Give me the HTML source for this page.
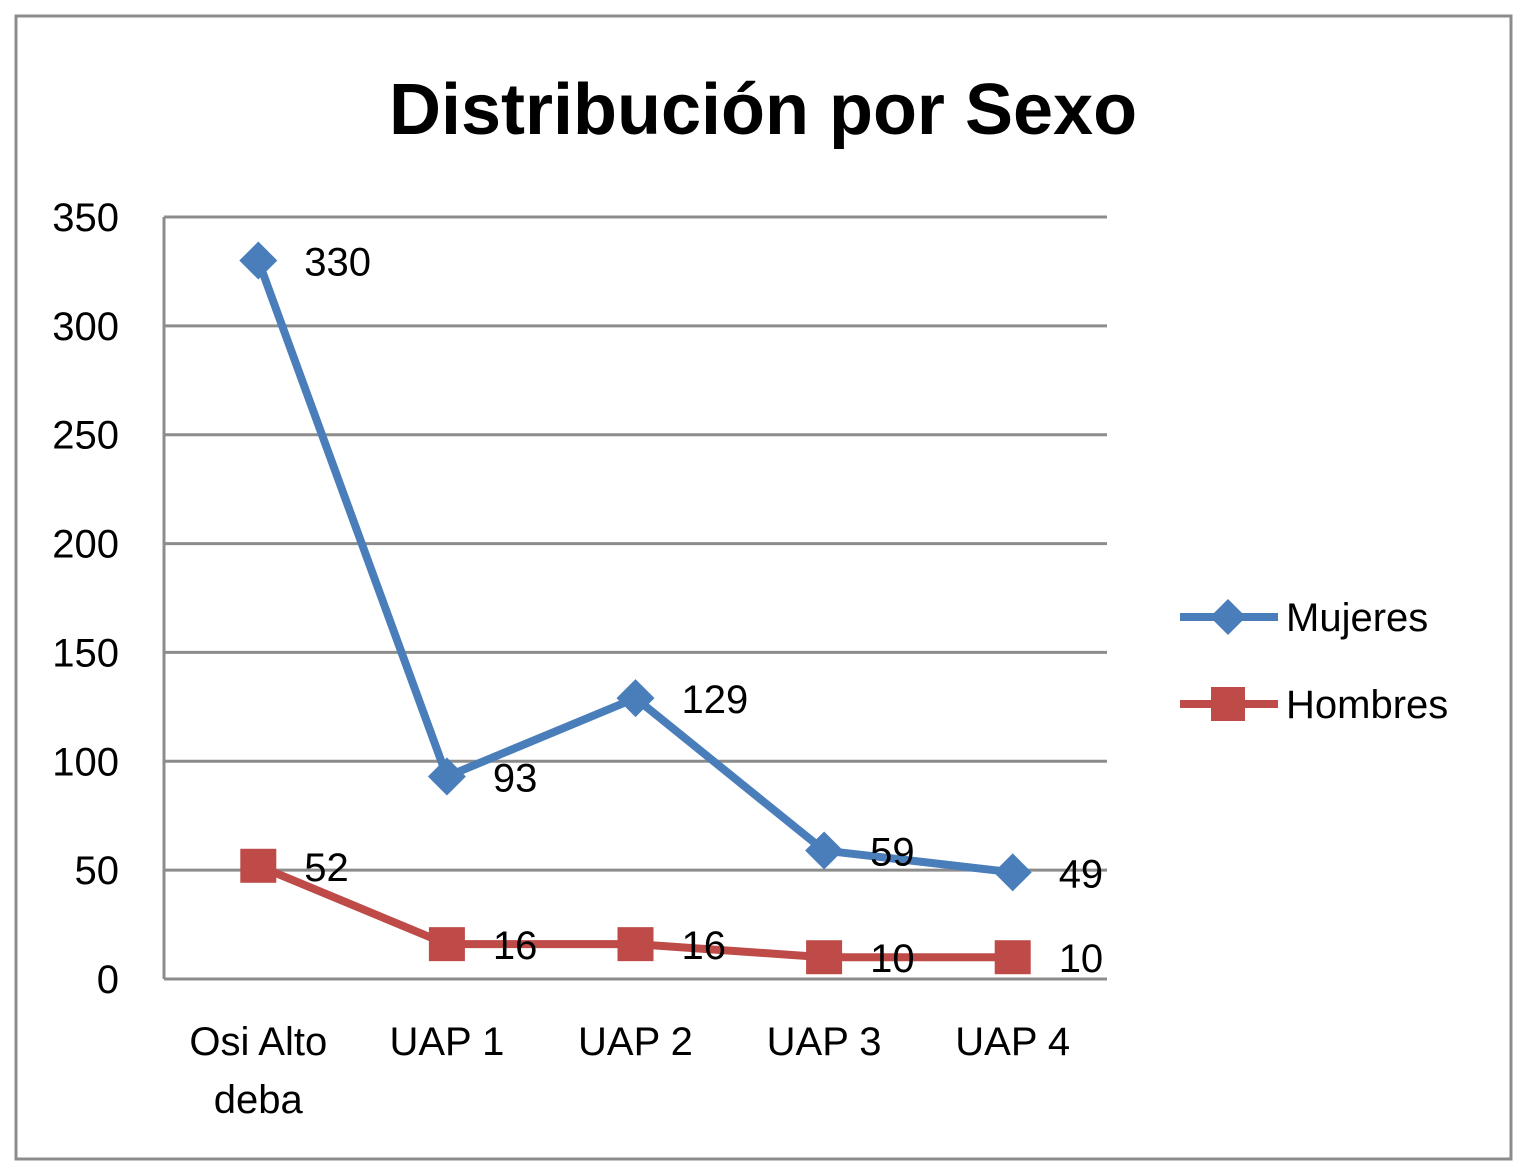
<!DOCTYPE html>
<html><head><meta charset="utf-8"><style>
body{margin:0;background:#fff}
svg text{font-family:"Liberation Sans",sans-serif;fill:#000}
</style></head><body>
<svg id="chart" width="1528" height="1167" xmlns="http://www.w3.org/2000/svg">
<rect x="16" y="16" width="1495" height="1143" fill="#fff" stroke="#8c8c8c" stroke-width="3"/>
<text x="763" y="134" text-anchor="middle" font-size="72" font-weight="bold">Distribución por Sexo</text>
<g id="grid"></g><g id="yticks"></g><g id="xticks"></g><g id="series"></g>
<g>
<line x1="1180" y1="617" x2="1278" y2="617" stroke="#4a7ebb" stroke-width="8"/>
<path d="M1228 599 L1246 617 L1228 635 L1210 617 Z" fill="#4a7ebb"/>
<text x="1286" y="631" font-size="40">Mujeres</text>
<line x1="1180" y1="704" x2="1278" y2="704" stroke="#be4b48" stroke-width="8"/>
<rect x="1211" y="687" width="34" height="34" fill="#be4b48"/>
<text x="1286" y="718" font-size="40">Hombres</text>
</g>
</svg>
<script>
const categories=[["Osi Alto","deba"],["UAP 1"],["UAP 2"],["UAP 3"],["UAP 4"]];
const mujeres=[330,93,129,59,49];
const hombres=[52,16,16,10,10];
const yTicks=[0,50,100,150,200,250,300,350];
const NS="http://www.w3.org/2000/svg";
const L=164,R=1107,T=217,B=979,ymax=350;
const x=i=>L+(R-L)/categories.length*(i+0.5);
const y=v=>B-(B-T)*v/ymax;
function mk(tag,attrs,parent,txt){const e=document.createElementNS(NS,tag);for(const k in attrs)e.setAttribute(k,attrs[k]);if(txt!==undefined)e.textContent=txt;document.getElementById(parent).appendChild(e);return e;}
yTicks.forEach(t=>{
 const g=mk("line",{x1:L,x2:R,y1:y(t),y2:y(t),stroke:"#8c8c8c","stroke-width":3},"grid");
 
 
 const tx=mk("text",{x:119,y:y(t)+14,"text-anchor":"end","font-size":40},"yticks",t);
 
 
});
mk("line",{x1:L,x2:L,y1:T,y2:B,stroke:"#8c8c8c","stroke-width":3},"grid");
categories.forEach((c,i)=>{
 c.forEach((s,j)=>{
  const tx=mk("text",{x:x(i),y:1055+j*58,"text-anchor":"middle","font-size":40},"xticks",s);
  
  
 });
});
function series(vals,color,kind){
 const p=mk("polyline",{points:vals.map((v,i)=>x(i)+","+y(v)).join(" "),fill:"none",stroke:color,"stroke-width":8,"stroke-linejoin":"round"},"series");
 
 
 vals.forEach((v,i)=>{
  const cx=x(i),cy=y(v);let m;
  if(kind==="d") m=mk("path",{d:`M${cx} ${cy-19} L${cx+19} ${cy} L${cx} ${cy+19} L${cx-19} ${cy} Z`,fill:color},"series");
  else m=mk("rect",{x:cx-18,y:cy-17,width:36,height:34,fill:color},"series");
  
  
  const t=mk("text",{x:cx+46,y:cy+15,"font-size":40},"series",v);
  
  
 });
}
series(hombres,"#be4b48","s");
series(mujeres,"#4a7ebb","d");
</script>
</body></html>
